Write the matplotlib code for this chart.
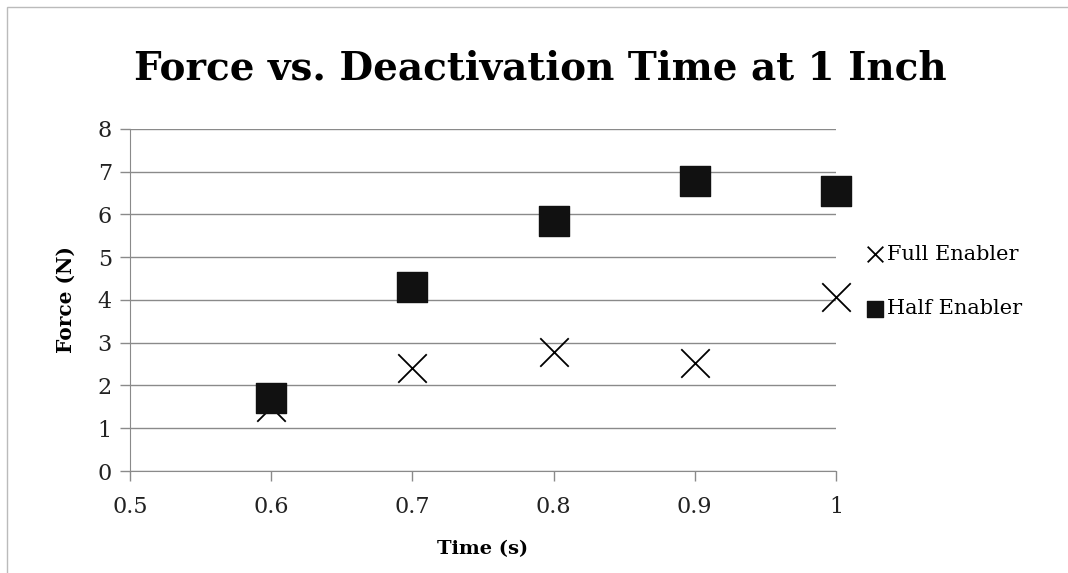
import matplotlib
matplotlib.use("Agg")
from matplotlib import pyplot as plt
from matplotlib.patches import Rectangle

plt.rcParams['font.family'] = ['DejaVu Serif']

# data
time_s = [0.6, 0.7, 0.8, 0.9, 1.0]
full_enabler = [1.5, 2.4, 2.78, 2.52, 4.08]
half_enabler = [1.7, 4.3, 5.85, 6.78, 6.55]

fig = plt.figure(figsize=(10.68, 5.73), dpi=100)
ax = fig.add_axes([0.1217, 0.178, 0.661, 0.597])

ax.scatter(time_s, full_enabler, marker='x', s=420, color='black', linewidths=1.3,
           label='Full Enabler', zorder=3, clip_on=False)
ax.scatter(time_s, half_enabler, marker='s', s=480, color='#111111',
           label='Half Enabler', zorder=4, clip_on=False)

ax.set_xlim(0.5, 1.0)
ax.set_ylim(0, 8)
ax.set_xticks([0.5, 0.6, 0.7, 0.8, 0.9, 1.0])
ax.set_xticklabels(['0.5', '0.6', '0.7', '0.8', '0.9', '1'])
ax.set_yticks(range(0, 9))
ax.grid(axis='y', color='#8a8a8a', linewidth=1.0)
ax.set_axisbelow(True)
for s in ['top', 'right']:
    ax.spines[s].set_visible(False)
for s in ['left', 'bottom']:
    ax.spines[s].set_color('#8a8a8a')
ax.tick_params(axis='both', colors='#8a8a8a', labelcolor='#222222', labelsize=16,
               length=7, width=1.0)
ax.tick_params(axis='x', pad=11)
ax.tick_params(axis='y', pad=6)

ax.set_xlabel('Time (s)', fontsize=14, fontweight='bold', labelpad=16)
ax.set_ylabel('Force (N)', fontsize=14.5, fontweight='bold', labelpad=16)
fig.text(0.506, 0.88, 'Force vs. Deactivation Time at 1 Inch', ha='center', va='center',
         fontsize=28, fontweight='bold')

fig.legend(loc='center left', bbox_to_anchor=(0.79, 0.509), frameon=False, fontsize=15,
           markerscale=0.55, handletextpad=0.0, labelspacing=1.7, handlelength=1.2)

fig.patches.append(Rectangle((0.0066, -0.01), 1.0, 0.997, transform=fig.transFigure,
                             fill=False, edgecolor='#bbbbbb', linewidth=1.0))

fig.savefig('out.png', dpi=100)
